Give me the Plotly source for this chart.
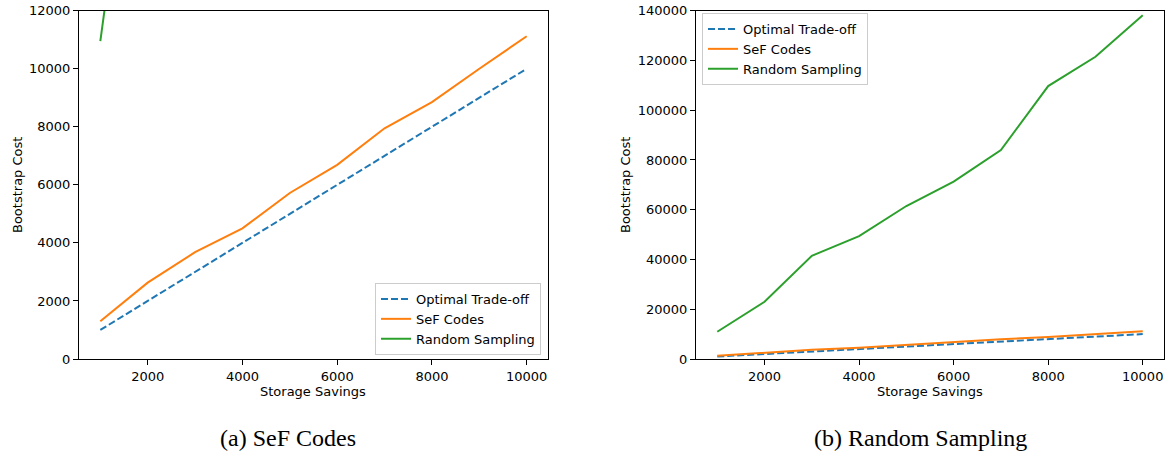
import plotly.graph_objects as go

W, H = 1166, 456

storage = [1000, 2000, 3000, 4000, 5000, 6000, 7000, 8000, 9000, 10000]
optimal = [1000, 2000, 3000, 4000, 5000, 6000, 7000, 8000, 9000, 10000]
sef_codes = [1300, 2630, 3680, 4500, 5720, 6690, 7950, 8850, 10000, 11120]
random_sampling = [10950, 23000, 41500, 49400, 61500, 71300, 84000, 109700, 121500, 138200]

series_names = ["Optimal Trade-off", "SeF Codes", "Random Sampling"]
colors = ["#1f77b4", "#ff7f0e", "#2ca02c"]

left_yticks = [0, 2000, 4000, 6000, 8000, 10000, 12000]
right_yticks = [0, 20000, 40000, 60000, 80000, 100000, 120000, 140000]
xticks = [2000, 4000, 6000, 8000, 10000]

x_title = "Storage Savings"
y_title = "Bootstrap Cost"
captions = ["(a) SeF Codes", "(b) Random Sampling"]

def px_x(p):
    return p / W

def px_y(p):
    return 1 - p / H

fig = go.Figure()

all_series = [optimal, sef_codes, random_sampling]
for panel, (xa, ya, leg) in enumerate([("x", "y", "legend"), ("x2", "y2", "legend2")]):
    for name, vals, col in zip(series_names, all_series, colors):
        fig.add_trace(go.Scatter(
            x=storage, y=vals, mode="lines", name=name,
            xaxis=xa, yaxis=ya, legend=leg,
            line=dict(color=col, width=2,
                      dash="7px,3px" if name == "Optimal Trade-off" else "solid"),
        ))

font = dict(family="DejaVu Sans", size=13, color="black")
axis_common = dict(
    showline=True, linecolor="black", linewidth=1, mirror=True,
    ticks="outside", ticklen=5, tickwidth=1, tickcolor="black",
    showgrid=False, zeroline=False, tickfont=font, tickformat="d",
    automargin=False,
)

x_dom1 = [px_x(79), px_x(548)]
x_dom2 = [px_x(696), px_x(1164)]
y_dom = [px_y(359), px_y(10.7)]

fig.update_layout(
    width=W, height=H,
    margin=dict(l=0, r=0, t=0, b=0, pad=0, autoexpand=False),
    paper_bgcolor="white", plot_bgcolor="white",
    font=font,
    xaxis=dict(domain=x_dom1, anchor="y", range=[550, 10450], tickvals=xticks, **axis_common),
    yaxis=dict(domain=y_dom, anchor="x", range=[0, 12000], tickvals=left_yticks, **axis_common),
    xaxis2=dict(domain=x_dom2, anchor="y2", range=[550, 10450], tickvals=xticks, **axis_common),
    yaxis2=dict(domain=y_dom, anchor="x2", range=[0, 140000], tickvals=right_yticks, **axis_common),
    legend=dict(x=px_x(541), y=px_y(355), xanchor="right", yanchor="bottom",
                bgcolor="rgba(255,255,255,0.8)", bordercolor="#cccccc", borderwidth=1,
                font=font, tracegroupgap=0),
    legend2=dict(x=px_x(702), y=px_y(13), xanchor="left", yanchor="top",
                 bgcolor="rgba(255,255,255,0.8)", bordercolor="#cccccc", borderwidth=1,
                 font=font, tracegroupgap=0),
    showlegend=True,
)

cap_font = dict(family="Liberation Serif", size=24, color="black")
annotations = [
    dict(text=x_title, x=px_x(313), y=px_y(391), xref="paper", yref="paper",
         showarrow=False, font=font, xanchor="center", yanchor="middle"),
    dict(text=x_title, x=px_x(930), y=px_y(391), xref="paper", yref="paper",
         showarrow=False, font=font, xanchor="center", yanchor="middle"),
    dict(text=y_title, x=px_x(17), y=px_y(185), xref="paper", yref="paper", textangle=-90,
         showarrow=False, font=font, xanchor="center", yanchor="middle"),
    dict(text=y_title, x=px_x(625), y=px_y(185), xref="paper", yref="paper", textangle=-90,
         showarrow=False, font=font, xanchor="center", yanchor="middle"),
    dict(text=captions[0], x=px_x(288), y=px_y(438), xref="paper", yref="paper",
         showarrow=False, font=cap_font, xanchor="center", yanchor="middle"),
    dict(text=captions[1], x=px_x(921), y=px_y(438), xref="paper", yref="paper",
         showarrow=False, font=cap_font, xanchor="center", yanchor="middle"),
]
fig.update_layout(annotations=annotations)

fig.write_html("out.html")
